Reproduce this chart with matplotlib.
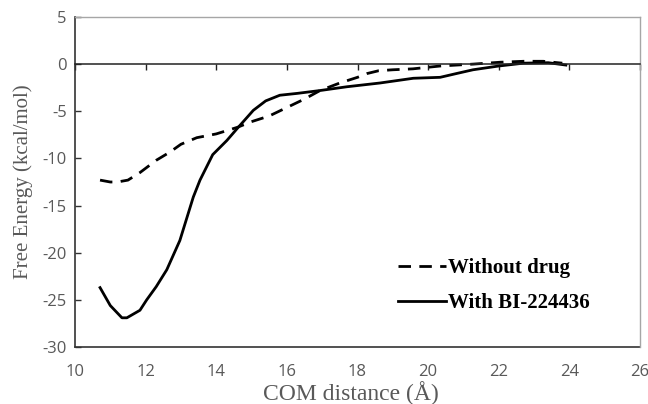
import matplotlib.pyplot as plt

plt.rcParams['axes.unicode_minus'] = False

# Free energy profiles
dist_nodrug = [10.71, 11.0, 11.2, 11.5, 11.84, 12.3, 12.7, 13.0, 13.45, 14.0, 14.6, 15.0, 15.5,
               16.0, 16.5, 16.94, 17.5, 18.0, 18.27, 18.6, 19.0, 19.57, 20.34, 21.27, 22.04,
               22.7, 23.26, 23.8]
energy_nodrug = [-12.3, -12.5, -12.5, -12.3, -11.5, -10.2, -9.3, -8.5, -7.8, -7.4, -6.7, -6.1, -5.5,
                 -4.6, -3.7, -2.8, -2.0, -1.4, -1.0, -0.7, -0.6, -0.5, -0.2, 0.0, 0.2,
                 0.3, 0.3, 0.1]

dist_drug = [10.71, 11.0, 11.33, 11.47, 11.84, 12.03, 12.3, 12.6, 12.97, 13.35, 13.54, 13.9, 14.3,
             14.6, 15.05, 15.4, 15.8, 16.3, 16.94, 17.7, 18.64, 19.58, 20.34, 20.8, 21.27,
             22.0, 22.7, 23.4, 23.9]
energy_drug = [-23.7, -25.6, -26.9, -26.9, -26.1, -25.0, -23.6, -21.8, -18.7, -14.1, -12.3, -9.6, -8.1,
               -6.8, -4.9, -3.9, -3.3, -3.1, -2.8, -2.4, -2.0, -1.5, -1.4, -1.0, -0.6,
               -0.2, 0.1, 0.15, -0.1]

xticks = list(range(10, 27, 2))
yticks = list(range(-30, 6, 5))

fig = plt.figure(figsize=(6.48, 4.04), dpi=100)
ax = fig.add_axes([0.1157, 0.141, 0.872, 0.817])

ax.plot(dist_nodrug, energy_nodrug, color='black', lw=2.0, dashes=(4.5, 3),
        label='Without drug', solid_capstyle='butt')
ax.plot(dist_drug, energy_drug, color='black', lw=2.0, label='With BI-224436')

ax.set_xlim(10, 26)
ax.set_ylim(-30, 5)
ax.set_xticks(xticks)
ax.set_yticks(yticks)

# x axis crosses at zero, labels stay at the bottom
ax.spines['bottom'].set_position(('data', 0))
ax.spines['bottom'].set_color('#222222')
ax.spines['bottom'].set_linewidth(1.1)
ax.axhline(-30, color='#333333', lw=1.2, clip_on=False)
ax.spines['left'].set_color('#333333')
ax.spines['left'].set_linewidth(1.2)
for s in ['top', 'right']:
    ax.spines[s].set_color('#a6a6a6')
    ax.spines[s].set_linewidth(1.0)

ax.tick_params(axis='x', direction='out', length=4, width=1, color='#222222',
               pad=212, labelsize=12, labelcolor='#595959')
ax.tick_params(axis='y', direction='in', length=4, width=1, color='#333333',
               pad=6, labelsize=12, labelcolor='#595959')
for lab in ax.get_xticklabels() + ax.get_yticklabels():
    lab.set_fontfamily('Open Sans')

ax.set_xlabel('COM distance (Å)', fontfamily='Liberation Serif', fontsize=17,
              color='#595959', va='baseline')
ax.set_ylabel('Free Energy (kcal/mol)', fontfamily='Liberation Serif', fontsize=15,
              color='#595959')
ax.xaxis.set_label_coords(0.488, -0.16)
ax.yaxis.set_label_coords(-0.074, 0.5)

ax.legend(loc='lower right', bbox_to_anchor=(0.944, 0.045), frameon=False,
          prop={'family': 'Liberation Serif', 'weight': 'bold', 'size': 15},
          handlelength=2.3, handletextpad=0.1, labelspacing=0.75)

fig.savefig('out.png', dpi=100)
